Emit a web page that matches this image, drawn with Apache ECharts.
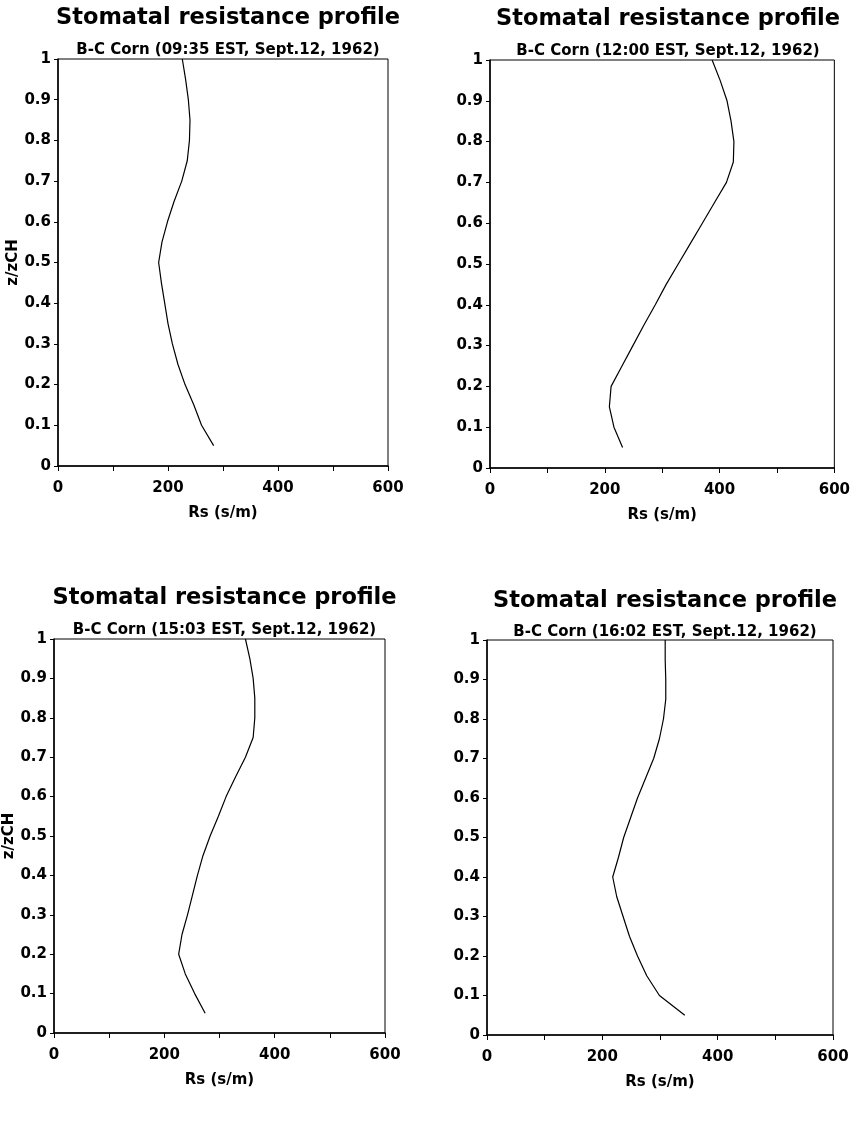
<!DOCTYPE html>
<html>
<head>
<meta charset="utf-8">
<script src="https://cdn.jsdelivr.net/npm/echarts@6/dist/echarts.min.js"></script>
<style>
html,body{margin:0;padding:0;background:#fff;}
#main{width:853px;height:1148px;}
</style>
</head>
<body>
<div id="main"></div>
<script>
// Relative height z/zCH
var heights = [0.05,0.10,0.15,0.20,0.25,0.30,0.35,0.40,0.45,0.50,0.55,0.60,0.65,0.70,0.75,0.80,0.85,0.90,0.95,1.00];
// Stomatal resistance Rs (s/m) at each height
var rs0935 = [283,261,247,231,218,208,200,194,188,183,189,199,211,225,235,239,240,237,232,226];
var rs1200 = [231,216,208,211,230,249,268,288,307,328,349,370,391,412,424,425,420,413,401,387];
var rs1503 = [274,255,238,226,232,242,251,260,270,283,298,312,329,347,361,364,364,361,355,347];
var rs1602 = [343,299,277,261,247,236,225,218,228,237,249,261,275,289,299,306,310,310,309,309];
var subtitles = ['B-C Corn (09:35 EST, Sept.12, 1962)','B-C Corn (12:00 EST, Sept.12, 1962)','B-C Corn (15:03 EST, Sept.12, 1962)','B-C Corn (16:02 EST, Sept.12, 1962)'];
var mainTitle = 'Stomatal resistance profile';
var xName = 'Rs (s/m)';
var yName = 'z/zCH';
var xTicks = [0,100,200,300,400,500,600];
var xLabelVals = [0,200,400,600];
var yTicks = [0,0.1,0.2,0.3,0.4,0.5,0.6,0.7,0.8,0.9,1];

var seriesData = [rs0935, rs1200, rs1503, rs1602];
var FONT = 'DejaVu Sans';

// plot rectangles [left, top, right, bottom]
var boxes = [
  [58, 59, 388, 466],
  [490, 60, 836, 468],
  [54, 639, 385, 1033],
  [487, 640, 833, 1035]
];
var titleY = [[2, 38], [3, 39], [582, 618], [585, 620]];
var showYName = [true, false, true, false];

var grids = [], xAxes = [], yAxes = [], series = [], titles = [];
boxes.forEach(function (b, i) {
  grids.push({left: b[0], top: b[1], width: b[2]-b[0], height: b[3]-b[1], show: true, borderColor: '#000', borderWidth: 1, backgroundColor: 'transparent'});
  var cx = (b[0]+b[2])/2;
  titles.push({text: mainTitle, left: cx, top: titleY[i][0], textAlign: 'center',
    textStyle: {fontFamily: FONT, fontWeight: 'bold', fontSize: 22.5, color: '#000'}});
  titles.push({text: subtitles[i], left: cx, top: titleY[i][1], textAlign: 'center',
    textStyle: {fontFamily: FONT, fontWeight: 'bold', fontSize: 15, color: '#000'}});
  xAxes.push({
    type: 'value', gridIndex: i, min: xTicks[0], max: xTicks[xTicks.length-1], interval: xTicks[1]-xTicks[0],
    name: xName, nameLocation: 'middle', nameGap: 40,
    nameTextStyle: {fontFamily: FONT, fontWeight: 'bold', fontSize: 15, color: '#000'},
    axisLine: {show: true, lineStyle: {color: '#000', width: 1.5}},
    axisTick: {show: true, length: 5, lineStyle: {color: '#000', width: 1}},
    splitLine: {show: false},
    axisLabel: {margin: 15, fontFamily: FONT, fontWeight: 'bold', fontSize: 15, color: '#000',
      formatter: function (v) { return xLabelVals.indexOf(v) >= 0 ? String(v) : ''; }}
  });
  yAxes.push({
    type: 'value', gridIndex: i, min: yTicks[0], max: yTicks[yTicks.length-1], interval: 0.1,
    name: showYName[i] ? yName : '', nameLocation: 'middle', nameGap: 35,
    nameTextStyle: {fontFamily: FONT, fontWeight: 'bold', fontSize: 15, color: '#000'},
    axisLine: {show: true, lineStyle: {color: '#000', width: 1.5}},
    axisTick: {show: true, length: 4, lineStyle: {color: '#000', width: 1}},
    splitLine: {show: false},
    axisLabel: {margin: 7, fontFamily: FONT, fontWeight: 'bold', fontSize: 15, color: '#000',
      formatter: function (v) { return String(Math.round(v*10)/10); }}
  });
  series.push({
    type: 'line', xAxisIndex: i, yAxisIndex: i, showSymbol: false, symbol: 'none',
    lineStyle: {color: '#000', width: 1.2}, animation: false,
    data: seriesData[i].map(function (x, k) { return [x, heights[k]]; })
  });
});

var chart = echarts.init(document.getElementById('main'), null, {renderer: 'canvas'});
chart.setOption({
  backgroundColor: '#fff',
  animation: false,
  title: titles,
  grid: grids,
  xAxis: xAxes,
  yAxis: yAxes,
  series: series
});
</script>
</body>
</html>
